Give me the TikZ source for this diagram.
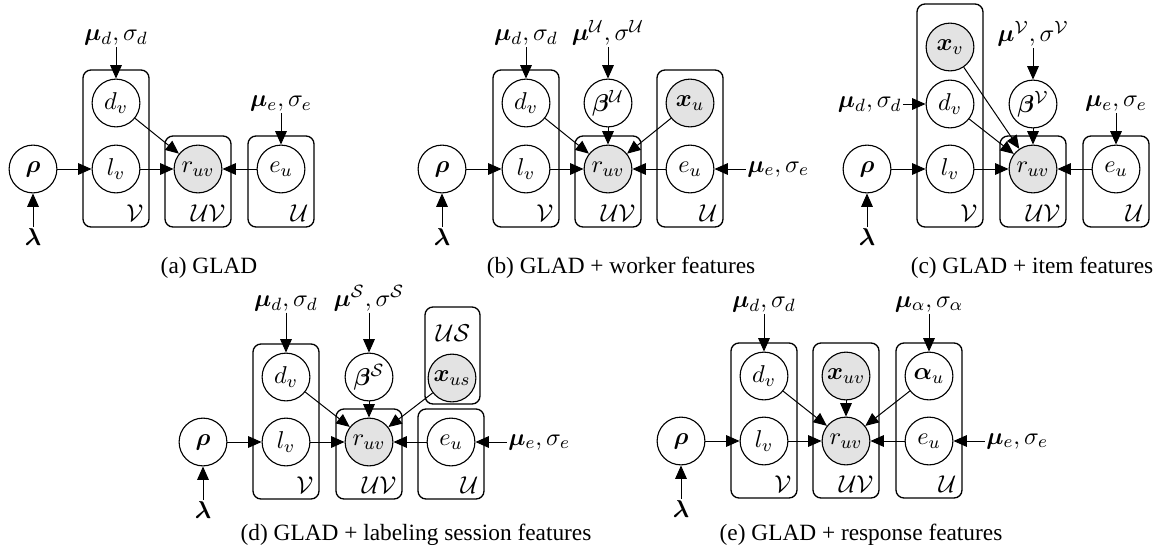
\documentclass[tikz,border=0pt]{standalone}
\usepackage{amsmath,bm}
\usepackage{fontspec}
\setmainfont{Liberation Serif}
\usetikzlibrary{arrows.meta, positioning}
\newcommand{\mathsz}{\fontsize{11.4}{13}\selectfont}
\tikzset{
    var/.style={circle, draw, line width=0.5pt, minimum size=21.5pt, inner sep=0pt, font=\mathsz},
    obs/.style={var, fill=gray!22},
    plate/.style={draw, line width=0.6pt, rounded corners=3.6pt},
    platelab/.style={anchor=south east, inner sep=1pt, font=\mathsz},
    hyper/.style={inner sep=0.6pt, font=\mathsz},
    arr/.style={line width=0.45pt, -{Triangle[length=6pt,width=5.2pt]}},
    subcap/.style={font=\fontsize{10.5}{12}\selectfont}
}

\begin{document}
\begin{tikzpicture}[x=0.45pt, y=-0.45pt]
    \useasboundingbox (0,0) rectangle (1157,559);

    % (a) GLAD
    \node (a-rho) [var] at (33,169) {$\bm{\rho}$};
    \node (a-lam) [hyper, below=15pt of a-rho] {$\bm{\lambda}$};
    \node (a-dv) [var] at (116,103) {$d_v$};
    \node (a-lv) [var] at (116,169) {$l_v$};
    \node (a-ruv) [obs] at (198,169) {$r_{uv}$};
    \node (a-eu) [var] at (281,169) {$e_u$};
    \node (a-mud) [hyper, above=14pt of a-dv] {$\bm{\mu}_d, \sigma_d$};
    \node (a-mue) [hyper, above=14pt of a-eu] {$\bm{\mu}_e, \sigma_e$};
    \draw [plate] (83,70) rectangle (149,227);
    \draw [plate] (165,136) rectangle (231,227);
    \draw [plate] (248,136) rectangle (314,227);
    \node [platelab] at (146,224) {$\mathcal{V}$};
    \node [platelab] at (228,224) {$\mathcal{UV}$};
    \node [platelab] at (311,224) {$\mathcal{U}$};
    \draw [arr] (a-lam) -- (a-rho);
    \draw [arr] (a-rho) -- (a-lv);
    \draw [arr] (a-lv) -- (a-ruv);
    \draw [arr] (a-dv) -- (a-ruv);
    \draw [arr] (a-eu) -- (a-ruv);
    \draw [arr] (a-mud) -- (a-dv);
    \draw [arr] (a-mue) -- (a-eu);
    \node (a-cap) [subcap] at (209,268) {(a) GLAD};

    % (b) GLAD + worker features
    \node (b-rho) [var] at (442,169) {$\bm{\rho}$};
    \node (b-lam) [hyper, below=15pt of b-rho] {$\bm{\lambda}$};
    \node (b-dv) [var] at (526,103) {$d_v$};
    \node (b-lv) [var] at (526,169) {$l_v$};
    \node (b-beta) [var] at (608,103) {$\bm{\beta}^{\mathcal{U}}$};
    \node (b-ruv) [obs] at (608,169) {$r_{uv}$};
    \node (b-xu) [obs] at (690,103) {$\bm{x}_u$};
    \node (b-eu) [var] at (690,169) {$e_u$};
    \node (b-mud) [hyper, above=14pt of b-dv] {$\bm{\mu}_d, \sigma_d$};
    \node (b-muU) [hyper, above=14pt of b-beta] {$\bm{\mu}^{\mathcal{U}}, \sigma^{\mathcal{U}}$};
    \node (b-mue) [hyper, right=14pt of b-eu] {$\bm{\mu}_e, \sigma_e$};
    \draw [plate] (493,70) rectangle (559,227);
    \draw [plate] (575,136) rectangle (641,227);
    \draw [plate] (657,70) rectangle (723,227);
    \node [platelab] at (556,224) {$\mathcal{V}$};
    \node [platelab] at (638,224) {$\mathcal{UV}$};
    \node [platelab] at (720,224) {$\mathcal{U}$};
    \draw [arr] (b-lam) -- (b-rho);
    \draw [arr] (b-rho) -- (b-lv);
    \draw [arr] (b-lv) -- (b-ruv);
    \draw [arr] (b-dv) -- (b-ruv);
    \draw [arr] (b-beta) -- (b-ruv);
    \draw [arr] (b-xu) -- (b-ruv);
    \draw [arr] (b-eu) -- (b-ruv);
    \draw [arr] (b-mud) -- (b-dv);
    \draw [arr] (b-muU) -- (b-beta);
    \draw [arr] (b-mue) -- (b-eu);
    \node (b-cap) [subcap] at (621,268) {(b) GLAD + worker features};

    % (c) GLAD + item features
    \node (c-rho) [var] at (867,169) {$\bm{\rho}$};
    \node (c-lam) [hyper, below=15pt of c-rho] {$\bm{\lambda}$};
    \node (c-xv) [obs] at (950,47) {$\bm{x}_v$};
    \node (c-dv) [var] at (950,104) {$d_v$};
    \node (c-lv) [var] at (950,169) {$l_v$};
    \node (c-beta) [var] at (1033,104) {$\bm{\beta}^{\mathcal{V}}$};
    \node (c-ruv) [obs] at (1033,169) {$r_{uv}$};
    \node (c-eu) [var] at (1116,169) {$e_u$};
    \node (c-mud) [hyper, left=10pt of c-dv] {$\bm{\mu}_d, \sigma_d$};
    \node (c-muV) [hyper, above=14pt of c-beta] {$\bm{\mu}^{\mathcal{V}}, \sigma^{\mathcal{V}}$};
    \node (c-mue) [hyper, above=14pt of c-eu] {$\bm{\mu}_e, \sigma_e$};
    \draw [plate] (917,4) rectangle (983,227);
    \draw [plate] (1000,136) rectangle (1066,227);
    \draw [plate] (1083,136) rectangle (1149,227);
    \node [platelab] at (980,224) {$\mathcal{V}$};
    \node [platelab] at (1063,224) {$\mathcal{UV}$};
    \node [platelab] at (1146,224) {$\mathcal{U}$};
    \draw [arr] (c-lam) -- (c-rho);
    \draw [arr] (c-rho) -- (c-lv);
    \draw [arr] (c-lv) -- (c-ruv);
    \draw [arr] (c-dv) -- (c-ruv);
    \draw [arr] (c-xv) -- (c-ruv);
    \draw [arr] (c-beta) -- (c-ruv);
    \draw [arr] (c-eu) -- (c-ruv);
    \draw [arr] (c-mud) -- (c-dv);
    \draw [arr] (c-muV) -- (c-beta);
    \draw [arr] (c-mue) -- (c-eu);
    \node (c-cap) [subcap] at (1032,268) {(c) GLAD + item features};

    % (d) GLAD + labeling session features
    \node (d-rho) [var] at (203,442) {$\bm{\rho}$};
    \node (d-lam) [hyper, below=15pt of d-rho] {$\bm{\lambda}$};
    \node (d-dv) [var] at (286,377) {$d_v$};
    \node (d-lv) [var] at (286,442) {$l_v$};
    \node (d-beta) [var] at (369,377) {$\bm{\beta}^{\mathcal{S}}$};
    \node (d-ruv) [obs] at (369,442) {$r_{uv}$};
    \node (d-xus) [obs] at (452,378) {$\bm{x}_{us}$};
    \node (d-eu) [var] at (451,442) {$e_u$};
    \node (d-mud) [hyper, above=18pt of d-dv] {$\bm{\mu}_d, \sigma_d$};
    \node (d-muS) [hyper, above=18pt of d-beta] {$\bm{\mu}^{\mathcal{S}}, \sigma^{\mathcal{S}}$};
    \node (d-mue) [hyper, right=14pt of d-eu] {$\bm{\mu}_e, \sigma_e$};
    \draw [plate] (253,344) rectangle (319,499);
    \draw [plate] (336,409) rectangle (402,499);
    \draw [plate] (418,409) rectangle (484,499);
    \draw [plate] (425,307) rectangle (480,404);
    \node [platelab] at (316,496) {$\mathcal{V}$};
    \node [platelab] at (399,496) {$\mathcal{UV}$};
    \node [platelab] at (481,496) {$\mathcal{U}$};
    \node [font=\mathsz, inner sep=1pt] at (453,333) {$\mathcal{US}$};
    \draw [arr] (d-lam) -- (d-rho);
    \draw [arr] (d-rho) -- (d-lv);
    \draw [arr] (d-lv) -- (d-ruv);
    \draw [arr] (d-dv) -- (d-ruv);
    \draw [arr] (d-beta) -- (d-ruv);
    \draw [arr] (d-xus) -- (d-ruv);
    \draw [arr] (d-eu) -- (d-ruv);
    \draw [arr] (d-mud) -- (d-dv);
    \draw [arr] (d-muS) -- (d-beta);
    \draw [arr] (d-mue) -- (d-eu);
    \node (d-cap) [subcap] at (416,535) {(d) GLAD + labeling session features};

    % (e) GLAD + response features
    \node (e-rho) [var] at (681,441) {$\bm{\rho}$};
    \node (e-lam) [hyper, below=15pt of e-rho] {$\bm{\lambda}$};
    \node (e-dv) [var] at (764,376) {$d_v$};
    \node (e-lv) [var] at (764,441) {$l_v$};
    \node (e-xuv) [obs] at (846,376) {$\bm{x}_{uv}$};
    \node (e-ruv) [obs] at (846,441) {$r_{uv}$};
    \node (e-alpha) [var] at (929,376) {$\bm{\alpha}_u$};
    \node (e-eu) [var] at (929,441) {$e_u$};
    \node (e-mud) [hyper, above=17pt of e-dv] {$\bm{\mu}_d, \sigma_d$};
    \node (e-mua) [hyper, above=17pt of e-alpha] {$\bm{\mu}_\alpha, \sigma_\alpha$};
    \node (e-mue) [hyper, right=14pt of e-eu] {$\bm{\mu}_e, \sigma_e$};
    \draw [plate] (731,343) rectangle (797,498);
    \draw [plate] (813,343) rectangle (879,498);
    \draw [plate] (896,343) rectangle (962,498);
    \node [platelab] at (794,495) {$\mathcal{V}$};
    \node [platelab] at (876,495) {$\mathcal{UV}$};
    \node [platelab] at (959,495) {$\mathcal{U}$};
    \draw [arr] (e-lam) -- (e-rho);
    \draw [arr] (e-rho) -- (e-lv);
    \draw [arr] (e-lv) -- (e-ruv);
    \draw [arr] (e-dv) -- (e-ruv);
    \draw [arr] (e-xuv) -- (e-ruv);
    \draw [arr] (e-alpha) -- (e-ruv);
    \draw [arr] (e-eu) -- (e-ruv);
    \draw [arr] (e-mud) -- (e-dv);
    \draw [arr] (e-mua) -- (e-alpha);
    \draw [arr] (e-mue) -- (e-eu);
    \node (e-cap) [subcap] at (861,535) {(e) GLAD + response features};
\end{tikzpicture}
\end{document}
